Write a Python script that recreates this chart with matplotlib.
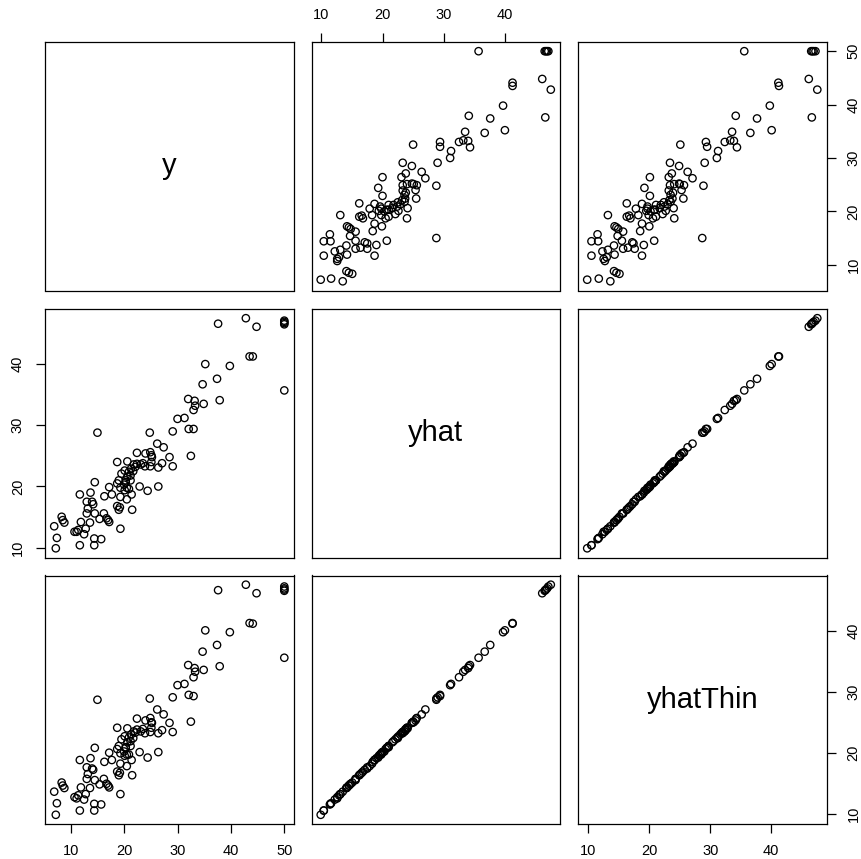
import matplotlib.pyplot as plt

plt.rcParams['font.family'] = ['Liberation Sans', 'DejaVu Sans']

# observed response and two sets of fitted values
y = [37.6, 42.8, 44.8, 50.0, 50.0, 50.0, 50.0, 50.0,
     35.2, 39.8, 43.5, 44.1, 37.4, 34.7, 37.9,
     32.0, 33.2, 33.3, 34.9, 33.0, 30.0, 31.3,
     32.1, 33.0, 29.1, 24.8, 15.0, 32.5, 26.2,
     27.4, 28.5, 29.1, 27.1, 26.4, 26.4, 24.4,
     22.9, 21.5, 21.4, 20.5, 19.3, 18.7, 20.6,
     22.4, 24.0, 24.9, 25.1, 25.2, 25.1, 24.9,
     23.5, 23.1, 22.4, 21.8, 22.1, 23.9,
     21.3, 20.9, 21.7, 21.2, 20.6, 21.2, 20.3, 19.5, 20.1,
     20.3, 20.0, 18.7, 19.0, 19.3, 20.5, 20.1, 20.9,
     17.2, 17.7, 16.3, 19.3, 18.7, 19.0, 19.2,
     14.5, 11.7, 13.7, 13.0, 14.0, 14.2, 13.2, 13.0,
     14.5, 15.4, 16.2, 16.7, 17.2, 17.0, 13.6, 11.9,
     12.8, 11.4, 10.7, 11.1, 12.5, 8.3, 8.5, 8.8,
     6.9, 7.4, 7.2, 11.7, 14.4, 15.7, 14.4]

yhat = [46.6, 47.5, 46.1, 46.5, 46.7, 46.9, 47.1, 35.7,
        40.0, 39.7, 41.25, 41.25, 37.6, 36.7, 34.1,
        34.3, 34.0, 33.2, 33.5, 32.5, 31.05, 31.2,
        29.4, 29.4, 29.0, 28.8, 28.8, 25.0, 27.0,
        26.4, 24.8, 23.3, 23.8, 23.1, 20.0, 19.3,
        20.0, 16.2, 18.7, 17.9, 13.1, 24.0, 24.1,
        25.5, 25.4, 25.6, 25.1, 24.8, 24.0, 23.3,
        23.8, 23.6, 23.7, 23.6, 23.2, 23.3,
        22.9, 22.4, 22.5, 21.8, 21.6, 21.0, 21.0, 22.1, 22.6,
        20.7, 20.3, 20.5, 21.0, 19.8, 19.8, 19.4, 19.6,
        19.9, 18.7, 18.4, 18.3, 16.8, 16.2, 16.6,
        20.7, 18.7, 19.0, 17.5, 17.5, 17.1, 16.4, 15.6,
        15.6, 14.7, 15.6, 14.8, 14.2, 14.5, 14.1, 14.2,
        13.1, 12.9, 12.6, 12.6, 12.2, 15.05, 14.5, 14.1,
        13.5, 11.6, 9.9, 10.4, 11.5, 11.4, 10.4]

yhatThin = [46.7, 47.6, 46.2, 46.6, 46.8, 47.0, 47.3, 35.6,
            40.1, 39.8, 41.3, 41.2, 37.7, 36.6, 34.2,
            34.4, 33.9, 33.3, 33.6, 32.4, 31.1, 31.3,
            29.5, 29.3, 29.1, 28.9, 28.7, 25.1, 27.1,
            26.3, 24.9, 23.4, 23.7, 23.2, 20.1, 19.2,
            20.1, 16.3, 18.8, 17.8, 13.2, 24.1, 24.0,
            25.6, 25.3, 25.7, 25.0, 24.9, 24.1, 23.4,
            23.9, 23.5, 23.8, 23.5, 23.3, 23.2,
            23.0, 22.5, 22.4, 21.9, 21.7, 21.1, 20.9, 22.2, 22.7,
            20.8, 20.2, 20.6, 21.1, 19.9, 19.7, 19.5, 19.7,
            20.0, 18.8, 18.5, 18.2, 16.9, 16.3, 16.7,
            20.8, 18.8, 19.1, 17.6, 17.4, 17.2, 16.5, 15.7,
            15.5, 14.8, 15.7, 14.9, 14.3, 14.6, 14.2, 14.3,
            13.2, 13.0, 12.7, 12.5, 12.3, 15.1, 14.6, 14.2,
            13.6, 11.7, 9.8, 10.5, 11.6, 11.5, 10.5]

names = ['y', 'yhat', 'yhatThin']
values = {'y': y, 'yhat': yhat, 'yhatThin': yhatThin}
ticks = {'y': [10, 20, 30, 40, 50], 'yhat': [10, 20, 30, 40], 'yhatThin': [10, 20, 30, 40]}


def limits(v):
    lo, hi = min(v), max(v)
    pad = 0.04 * (hi - lo)
    return lo - pad, hi + pad


W, H = 861, 859
lefts = [45, 311.5, 578]
tops = [42, 309, 575.5]
size = 248.5

fig = plt.figure(figsize=(W / 100, H / 100), dpi=100)

for i in range(3):
    for j in range(3):
        ax = fig.add_axes([lefts[j] / W, 1 - (tops[i] + size) / H, size / W, size / H])
        xv, yv = names[j], names[i]
        if i == j:
            ax.text(0.5, 0.5, names[i], transform=ax.transAxes,
                    ha='center', va='center', fontsize=21)
        else:
            ax.scatter(values[xv], values[yv], s=28, facecolors='none',
                       edgecolors='black', linewidths=0.95)
        ax.set_xlim(limits(values[xv]))
        ax.set_ylim(limits(values[yv]))
        ax.set_xticks(ticks[xv])
        ax.set_yticks(ticks[yv])
        for s in ax.spines.values():
            s.set_linewidth(0.9)

        show_bottom = i == 2 and j in (0, 2)
        show_top = i == 0 and j == 1
        show_left = j == 0 and i == 1
        show_right = j == 2 and i in (0, 2)
        ax.tick_params(axis='x', direction='out', length=6.5, width=0.9, labelsize=10.5, pad=8,
                       bottom=show_bottom, labelbottom=show_bottom,
                       top=show_top, labeltop=show_top)
        ax.tick_params(axis='y', direction='out', length=6.5, width=0.9, labelsize=10.5, pad=8,
                       labelrotation=90,
                       left=show_left, labelleft=show_left,
                       right=show_right, labelright=show_right)
        for lab in ax.get_yticklabels():
            lab.set_va('center')

fig.savefig('out.png', dpi=100)
